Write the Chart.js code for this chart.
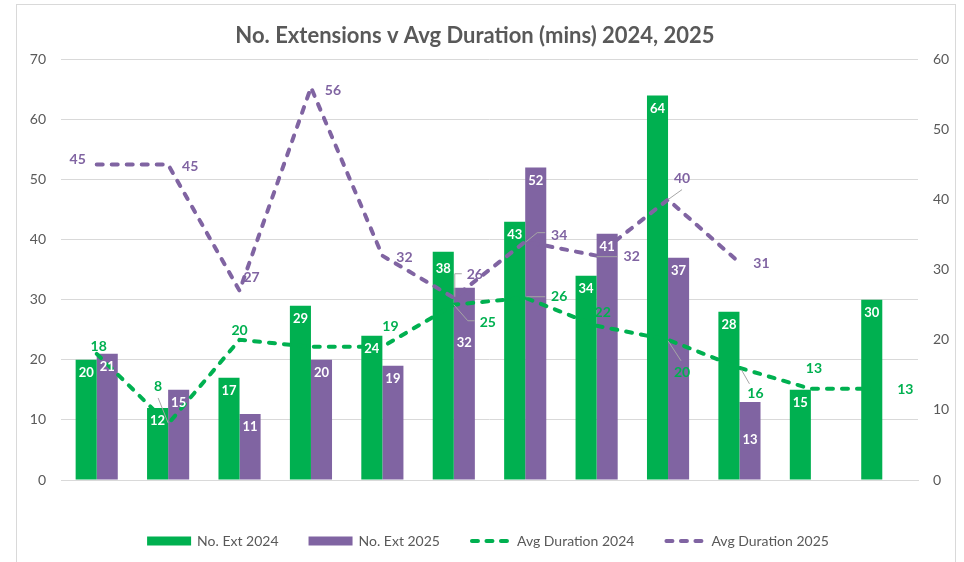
<!DOCTYPE html>
<html>
<head>
<meta charset="utf-8">
<script src="https://cdn.jsdelivr.net/npm/chart.js@4.4.1/dist/chart.umd.min.js"></script>
<style>
    body { margin: 0; background: #fff; }
    #frame { position: absolute; left: 16px; top: 4px; width: 938px; height: 620px; border: 1px solid #d9d9d9; }
    #myCanvas { position: absolute; left: 0; top: 0; }
</style>
</head>
<body>
<div id="frame"></div>
<canvas id="myCanvas" width="950" height="562"></canvas>
<script>
var months = ['Jan', 'Feb', 'Mar', 'Apr', 'May', 'June', 'Jul', 'Aug', 'Sep', 'Oct', 'Nov', 'Dec'];
var ext2024 = [20, 12, 17, 29, 24, 38, 43, 34, 64, 28, 15, 30];
var ext2025 = [21, 15, 11, 20, 19, 32, 52, 41, 37, 13, null, null];
var dur2024 = [18, 8, 20, 19, 19, 25, 26, 22, 20, 16, 13, 13];
var dur2025 = [45, 45, 27, 56, 32, 26, 34, 32, 40, 31, null, null];
var leftTicks = [0, 10, 20, 30, 40, 50, 60, 70];
var rightTicks = [0, 10, 20, 30, 40, 50, 60];

var green = '#00B050';
var purple = '#8064A2';
var grey = '#595959';
var dash = [6, 9];

// where excel put the line labels (offset from the point), null = not shown
var lineLabelPos = {
    2: [[2, -7], [-10, -37], [0, -9], null, [8, -20], [34, 18], [34, -1], [6, -13], [14, 33], [16, 26], [3, -20], [23, 1]],
    3: [[-19, -5], [22, 2], [12, -13], [22, 3], [22, 2], [21, -23], [34, -6], [35, 1], [14, -21], [22, 1]]
};
// leader lines, relative to the point
var leaders = {
    '2-1': [[0, -1], [-10, -26]],
    '2-5': [[0, 0], [14, 16], [21, 16]],
    '2-6': [[1, -1], [20, -1]],
    '2-8': [[0, 1], [13, 21]],
    '2-9': [[2, 2], [10, 16]],
    '3-5': [[1, -1], [1, -24], [8, -24]],
    '3-6': [[1, 0], [12, -9], [20, -9]],
    '3-7': [[0, 1], [21, 1]],
    '3-8': [[0, 0], [14, -10]]
};
// bar labels pushed further down
var barDrop = { '1-5': 55, '1-9': 38, '0-5': 17 };

var valueLabels = {
    id: 'valueLabels',
    afterDatasetsDraw: function (chart) {
        var ctx = chart.ctx;
        ctx.save();
        ctx.textAlign = 'center';
        ctx.textBaseline = 'middle';
        chart.data.datasets.forEach(function (ds, di) {
            var meta = chart.getDatasetMeta(di);
            meta.data.forEach(function (el, i) {
                var v = ds.data[i];
                if (v === null || v === undefined) return;
                if (ds.type === 'bar') {
                    ctx.font = 'bold 13px Lato';
                    ctx.fillStyle = '#fff';
                    ctx.fillText(v, el.x, el.y + (barDrop[di + '-' + i] || 13));
                } else {
                    var off = lineLabelPos[di][i];
                    if (!off) return;
                    var lead = leaders[di + '-' + i];
                    if (lead) {
                        ctx.strokeStyle = '#a6a6a6';
                        ctx.lineWidth = 1;
                        ctx.setLineDash([]);
                        ctx.beginPath();
                        lead.forEach(function (p, k) {
                            if (k === 0) ctx.moveTo(el.x + p[0], el.y + p[1]);
                            else ctx.lineTo(el.x + p[0], el.y + p[1]);
                        });
                        ctx.stroke();
                    }
                    ctx.font = 'bold 14px Lato';
                    ctx.fillStyle = ds.borderColor;
                    ctx.fillText(v, el.x + off[0], el.y + off[1]);
                }
            });
        });
        ctx.restore();
    }
};

// legend drawn by hand so the spacing matches excel
var bottomLegend = {
    id: 'bottomLegend',
    afterDraw: function (chart) {
        var ctx = chart.ctx;
        var y = 541;
        ctx.save();
        ctx.font = '14px Lato';
        ctx.textBaseline = 'middle';
        ctx.textAlign = 'left';
        var items = chart.data.datasets.map(function (ds) {
            return { ds: ds, w: ds.type === 'bar' ? 44 : 41, tw: ctx.measureText(ds.label).width };
        });
        var total = 0;
        items.forEach(function (it, k) {
            total += it.w + 6 + it.tw + (k < items.length - 1 ? 30 : 0);
        });
        var x = 488 - total / 2;
        items.forEach(function (it) {
            if (it.ds.type === 'bar') {
                ctx.fillStyle = it.ds.backgroundColor;
                ctx.fillRect(x, y - 4.5, it.w, 9);
            } else {
                ctx.strokeStyle = it.ds.borderColor;
                ctx.lineWidth = 4;
                ctx.lineCap = 'round';
                ctx.setLineDash([6, 8.5]);
                ctx.beginPath();
                ctx.moveTo(x + 2, y);
                ctx.lineTo(x + it.w, y);
                ctx.stroke();
            }
            x += it.w + 6;
            ctx.fillStyle = grey;
            ctx.fillText(it.ds.label, x, y);
            x += it.tw + 30;
        });
        ctx.restore();
    }
};

Chart.defaults.font.family = 'Lato';
Chart.defaults.color = grey;

var ctx = document.getElementById('myCanvas');
var chart = new Chart(ctx, {
    type: 'bar',
    data: {
        labels: months,
        datasets: [
            { type: 'bar', label: 'No. Ext 2024', data: ext2024, backgroundColor: green, yAxisID: 'y', order: 2 },
            { type: 'bar', label: 'No. Ext 2025', data: ext2025, backgroundColor: purple, yAxisID: 'y', order: 2 },
            {
                type: 'line', label: 'Avg Duration 2024', data: dur2024, borderColor: green, borderWidth: 4,
                borderDash: dash, borderCapStyle: 'round', pointRadius: 0, yAxisID: 'y2', order: 1
            },
            {
                type: 'line', label: 'Avg Duration 2025', data: dur2025, borderColor: purple, borderWidth: 4,
                borderDash: dash, borderCapStyle: 'round', pointRadius: 0, yAxisID: 'y2', order: 1
            }
        ]
    },
    options: {
        responsive: false,
        animation: false,
        devicePixelRatio: 1,
        datasets: { bar: { barPercentage: 1, categoryPercentage: 0.59 } },
        layout: { padding: { bottom: 60 } },
        plugins: {
            legend: { display: false },
            tooltip: { enabled: false },
            title: {
                display: true,
                text: 'No. Extensions v Avg Duration (mins) 2024, 2025',
                color: grey,
                font: { size: 22, weight: 'bold' },
                padding: { top: 23, bottom: 10 }
            }
        },
        scales: {
            x: {
                grid: { display: false },
                border: { color: '#d9d9d9' },
                ticks: { color: grey, font: { size: 14 }, padding: 13 },
                afterFit: function (s) { s.height = 22; }
            },
            y: {
                position: 'left',
                min: leftTicks[0],
                max: leftTicks[leftTicks.length - 1],
                ticks: { stepSize: leftTicks[1] - leftTicks[0], color: grey, font: { size: 14 }, padding: 15 },
                grid: { color: '#d9d9d9', drawTicks: false },
                border: { display: false },
                afterFit: function (s) { s.width = 61; }
            },
            y2: {
                position: 'right',
                min: rightTicks[0],
                max: rightTicks[rightTicks.length - 1],
                ticks: { stepSize: rightTicks[1] - rightTicks[0], color: grey, font: { size: 14 }, padding: 15 },
                grid: { display: false, drawTicks: false },
                border: { display: false },
                afterFit: function (s) { s.width = 32; }
            }
        }
    },
    plugins: [valueLabels, bottomLegend]
});
</script>
</body>
</html>
